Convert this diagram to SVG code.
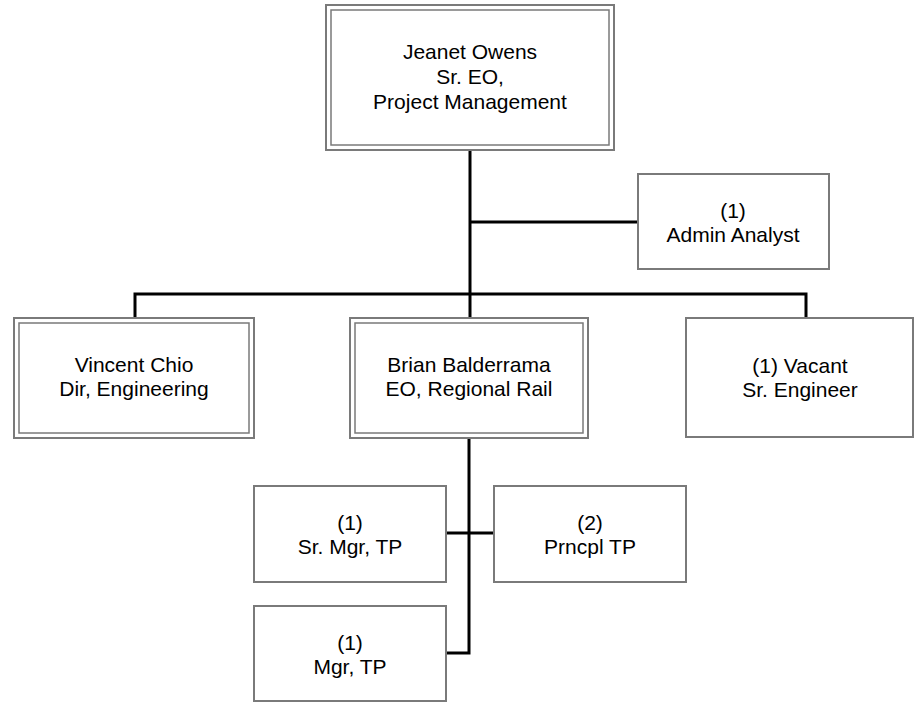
<svg xmlns="http://www.w3.org/2000/svg" width="914" height="702" viewBox="0 0 914 702">
<style>
.bg{fill:#ffffff}
.box{fill:#ffffff;stroke:#7a7a7a;stroke-width:2}
.inner{fill:none;stroke:#7a7a7a;stroke-width:1.5}
.conn{fill:none;stroke:#000000;stroke-width:3}
text{font-family:"Liberation Sans",Arial,sans-serif;font-size:21px;fill:#000000;text-anchor:middle}
</style>
<rect class="bg" x="0" y="0" width="914" height="702"/>
<g id="connectors">
<path class="conn" d="M470,150 V318"/>
<path class="conn" d="M470,222 H638"/>
<path class="conn" d="M135,318 V294 H806 V318"/>
<path class="conn" d="M469,438 V653 H446"/>
<path class="conn" d="M446,533 H494"/>
</g>
<g id="jeanet">
<rect class="box" x="326" y="5" width="288" height="145"/>
<rect class="inner" x="331" y="10" width="278" height="135"/>
<text x="470" y="59">Jeanet Owens</text>
<text x="470" y="84">Sr. EO,</text>
<text x="470" y="109">Project Management</text>
</g>
<g id="admin">
<rect class="box" x="638" y="174" width="191" height="95"/>
<text x="733" y="218">(1)</text>
<text x="733" y="242">Admin Analyst</text>
</g>
<g id="vincent">
<rect class="box" x="14" y="318" width="240" height="120"/>
<rect class="inner" x="19" y="323" width="230" height="110"/>
<text x="134" y="372">Vincent Chio</text>
<text x="134" y="396">Dir, Engineering</text>
</g>
<g id="brian">
<rect class="box" x="350" y="318" width="238" height="120"/>
<rect class="inner" x="355" y="323" width="228" height="110"/>
<text x="469" y="372">Brian Balderrama</text>
<text x="469" y="396">EO, Regional Rail</text>
</g>
<g id="vacant">
<rect class="box" x="686" y="318" width="227" height="119"/>
<text x="800" y="373">(1) Vacant</text>
<text x="800" y="397">Sr. Engineer</text>
</g>
<g id="srmgr">
<rect class="box" x="254" y="486" width="192" height="96"/>
<text x="350" y="530">(1)</text>
<text x="350" y="554">Sr. Mgr, TP</text>
</g>
<g id="prncpl">
<rect class="box" x="494" y="486" width="192" height="96"/>
<text x="590" y="530">(2)</text>
<text x="590" y="554">Prncpl TP</text>
</g>
<g id="mgr">
<rect class="box" x="254" y="606" width="192" height="95"/>
<text x="350" y="650">(1)</text>
<text x="350" y="674">Mgr, TP</text>
</g>
</svg>
